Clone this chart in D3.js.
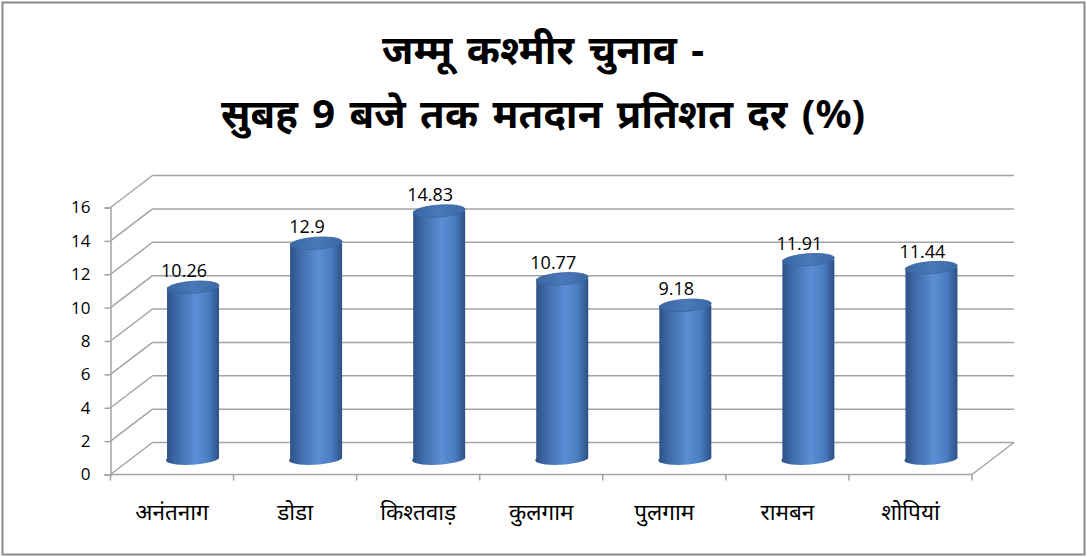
<!DOCTYPE html>
<html>
<head>
<meta charset="utf-8">
<script src="https://cdn.jsdelivr.net/npm/d3@7"></script>
<style>
  body { margin: 0; background: #fff; }
  svg { display: block; }
</style>
</head>
<body>
<script>
  // chart data
  const titleLines = ['जम्मू कश्मीर चुनाव -', 'सुबह 9 बजे तक मतदान प्रतिशत दर (%)'];
  const districts = ['अनंतनाग', 'डोडा', 'किश्तवाड़', 'कुलगाम', 'पुलगाम', 'रामबन', 'शोपियां'];
  const turnout = [10.26, 12.9, 14.83, 10.77, 9.18, 11.91, 11.44];
  const yTicks = [0, 2, 4, 6, 8, 10, 12, 14, 16];

  const width = 1087;
  const height = 557;
  const margin = { top: 207.5, right: 115, bottom: 82.5, left: 110.5 };
  // 3d depth offset of the back wall
  const depth = { dx: 42, dy: -32 };

  const svg = d3.select('body')
    .append('svg')
    .attr('width', width)
    .attr('height', height);

  // outer frame
  svg.append('rect')
    .attr('x', 2.5).attr('y', 2.5)
    .attr('width', width - 5).attr('height', height - 5)
    .attr('fill', '#fff')
    .attr('stroke', '#8a8a8a')
    .attr('stroke-width', 2);

  // title
  svg.append('g')
    .selectAll('text')
    .data(titleLines)
    .join('text')
    .attr('x', 543)
    .attr('y', (d, i) => 64 + i * 64)
    .attr('text-anchor', 'middle')
    .attr('font-family', 'Noto Sans, sans-serif')
    .attr('font-weight', 'bold')
    .attr('font-size', 40)
    .attr('word-spacing', 4)
    .attr('fill', '#000')
    .text((d) => d);

  const x = d3.scaleBand()
    .domain(districts)
    .range([margin.left, width - margin.right]);

  const y = d3.scaleLinear()
    .domain([0, 16])
    .range([height - margin.bottom, margin.top]);

  const x0 = x.range()[0];
  const x1 = x.range()[1];
  const grid = '#a3a3a3';

  const walls = svg.append('g')
    .attr('stroke', grid)
    .attr('stroke-width', 1.5)
    .attr('fill', 'none');

  // back wall gridlines
  walls.selectAll('line.back')
    .data(yTicks)
    .join('line')
    .attr('class', 'back')
    .attr('x1', x0 + depth.dx)
    .attr('x2', x1 + depth.dx)
    .attr('y1', (d) => y(d) + depth.dy)
    .attr('y2', (d) => y(d) + depth.dy);

  // side wall diagonals
  walls.selectAll('line.side')
    .data(yTicks)
    .join('line')
    .attr('class', 'side')
    .attr('x1', x0)
    .attr('x2', x0 + depth.dx)
    .attr('y1', (d) => y(d))
    .attr('y2', (d) => y(d) + depth.dy);

  // floor: front edge and right edge
  walls.append('line')
    .attr('x1', x0).attr('x2', x1)
    .attr('y1', y(0)).attr('y2', y(0));
  walls.append('line')
    .attr('x1', x1).attr('x2', x1 + depth.dx)
    .attr('y1', y(0)).attr('y2', y(0) + depth.dy);

  // category boundary ticks
  walls.selectAll('line.xtick')
    .data(d3.range(districts.length + 1))
    .join('line')
    .attr('class', 'xtick')
    .attr('x1', (i) => x0 + i * x.step())
    .attr('x2', (i) => x0 + i * x.step())
    .attr('y1', y(0))
    .attr('y2', y(0) + 6);

  // y axis
  const yAxis = svg.append('g')
    .attr('transform', `translate(${x0},0)`)
    .call(d3.axisLeft(y).tickValues(yTicks).tickSize(6).tickPadding(14));
  yAxis.select('.domain').attr('stroke', grid).attr('stroke-width', 1.5);
  yAxis.selectAll('.tick line').attr('stroke', grid).attr('stroke-width', 1.5);
  yAxis.selectAll('.tick text')
    .attr('font-family', 'Open Sans, sans-serif')
    .attr('font-size', 17)
    .attr('fill', '#000');

  // x axis labels
  const xAxis = svg.append('g')
    .attr('transform', `translate(0,${y(0)})`)
    .call(d3.axisBottom(x).tickSize(0).tickPadding(30));
  xAxis.select('.domain').remove();
  xAxis.selectAll('.tick text')
    .attr('font-family', 'Noto Sans, sans-serif')
    .attr('font-size', 22.5)
    .attr('fill', '#000');

  // cylinder shading
  const defs = svg.append('defs');
  const bodyGrad = defs.append('linearGradient')
    .attr('id', 'cylBody')
    .attr('x1', '0%').attr('x2', '100%')
    .attr('y1', '0%').attr('y2', '0%');
  [
    ['0%', '#2b4f82'],
    ['18%', '#3d68a6'],
    ['55%', '#5b8ed4'],
    ['80%', '#4a7cc0'],
    ['100%', '#2c5186'],
  ].forEach(([o, c]) => bodyGrad.append('stop').attr('offset', o).attr('stop-color', c));

  const topGrad = defs.append('linearGradient')
    .attr('id', 'cylTop')
    .attr('x1', '0%').attr('x2', '100%')
    .attr('y1', '0%').attr('y2', '0%');
  [
    ['0%', '#3a66a3'],
    ['50%', '#4a79b9'],
    ['100%', '#3c68a6'],
  ].forEach(([o, c]) => topGrad.append('stop').attr('offset', o).attr('stop-color', c));

  const rx = 26;
  const ry = 6;
  const tilt = -4;

  const marks = districts.map((d, i) => ({
    cx: x(d) + x.bandwidth() / 2 + depth.dx / 2,
    yb: y(0) + depth.dy / 2,
    yt: y(turnout[i]) + depth.dy / 2,
    value: turnout[i],
  }));

  const bars = svg.append('g')
    .selectAll('g')
    .data(marks)
    .join('g');

  bars.append('path')
    .attr('d', (d) => `M${d.cx - rx},${d.yt}`
      + `L${d.cx - rx},${d.yb}`
      + `A${rx},${ry} ${tilt} 0 0 ${d.cx + rx},${d.yb}`
      + `L${d.cx + rx},${d.yt}Z`)
    .attr('fill', 'url(#cylBody)');

  bars.append('ellipse')
    .attr('cx', (d) => d.cx)
    .attr('cy', (d) => d.yt)
    .attr('rx', rx)
    .attr('ry', ry)
    .attr('transform', (d) => `rotate(${tilt},${d.cx},${d.yt})`)
    .attr('fill', 'url(#cylTop)')
    .attr('stroke', '#3a63a0')
    .attr('stroke-width', 0.8);

  // value labels (sit a little left of the cylinder axis)
  bars.append('text')
    .attr('x', (d) => d.cx - 9)
    .attr('y', (d) => d.yt - 10)
    .attr('text-anchor', 'middle')
    .attr('font-family', 'Open Sans, sans-serif')
    .attr('font-size', 18)
    .attr('fill', '#000')
    .text((d) => d.value);
</script>
</body>
</html>
